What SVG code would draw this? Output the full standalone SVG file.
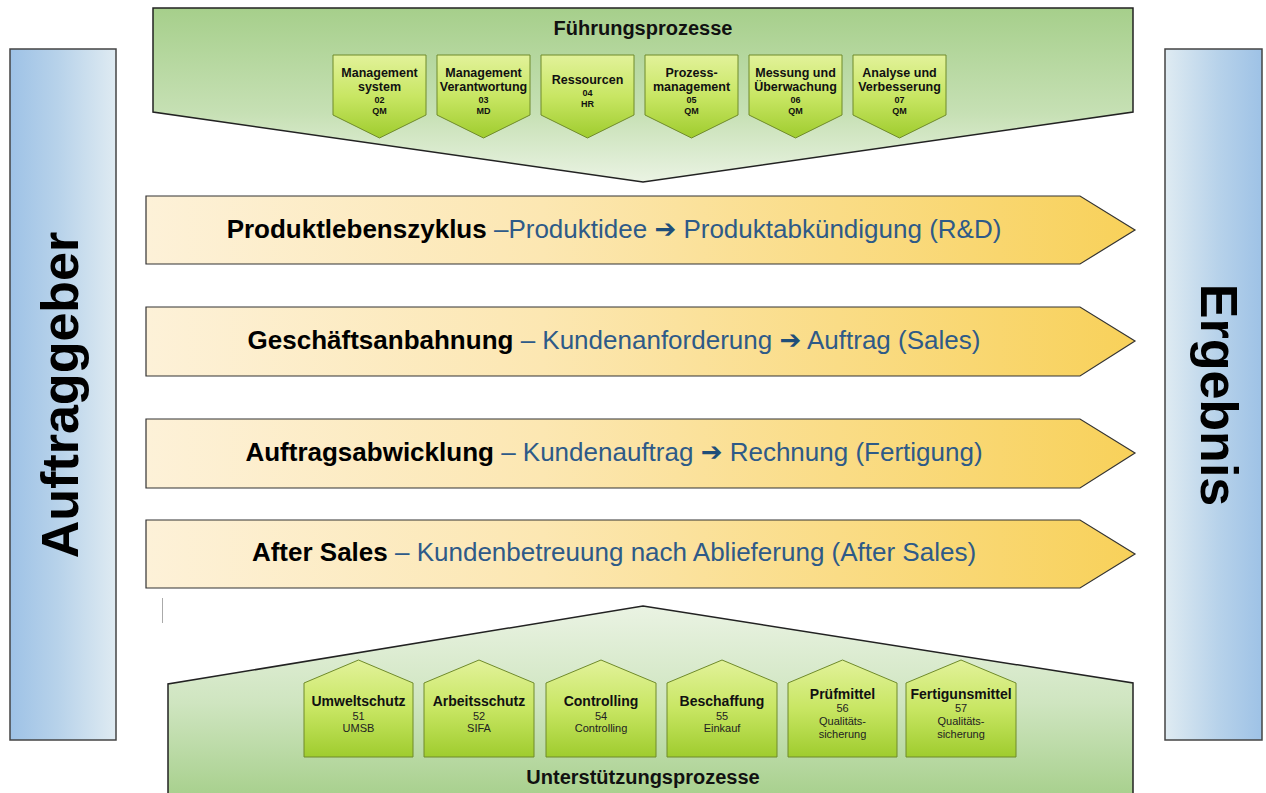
<svg xmlns="http://www.w3.org/2000/svg" width="1266" height="793" viewBox="0 0 1266 793">
<defs>
<linearGradient id="gBlueL" x1="0" y1="0" x2="1" y2="0"><stop offset="0" stop-color="#9ec2e6"/><stop offset="0.45" stop-color="#b7d2ea"/><stop offset="1" stop-color="#dfebf2"/></linearGradient>
<linearGradient id="gBlueR" x1="0" y1="0" x2="1" y2="0"><stop offset="0" stop-color="#dfebf2"/><stop offset="0.55" stop-color="#b7d2ea"/><stop offset="1" stop-color="#9ec2e6"/></linearGradient>
<linearGradient id="gYel" x1="0" y1="0" x2="1" y2="0"><stop offset="0" stop-color="#fdf1d8"/><stop offset="0.4" stop-color="#fce7b2"/><stop offset="1" stop-color="#f8d15a"/></linearGradient>
<linearGradient id="gGreenTop" x1="0" y1="0" x2="0" y2="1"><stop offset="0" stop-color="#a6cf8b"/><stop offset="0.6" stop-color="#c6e0b4"/><stop offset="1" stop-color="#eaf3e3"/></linearGradient>
<linearGradient id="gGreenBot" x1="0" y1="0" x2="0" y2="1"><stop offset="0" stop-color="#eaf3e3"/><stop offset="0.5" stop-color="#cfe5c0"/><stop offset="1" stop-color="#a6cf8b"/></linearGradient>
<linearGradient id="gBox" x1="0" y1="0" x2="0" y2="1"><stop offset="0" stop-color="#e2f29a"/><stop offset="0.5" stop-color="#c8e663"/><stop offset="1" stop-color="#9fcc2e"/></linearGradient>
<style>
.bar{stroke:#444;stroke-width:1.5}
.big{font-family:"Liberation Sans",Arial,sans-serif;font-weight:bold;font-size:52px;fill:#000}
.band{fill:url(#gYel);stroke:#333;stroke-width:1.2}
.bandT{font-family:"Liberation Sans",Arial,sans-serif;font-size:26px;fill:#2e5a88}
.bandT .k{font-weight:bold;fill:#000}
.arr{font-family:"DejaVu Sans",sans-serif;fill:#1f4e79;font-weight:bold}
.pent{stroke:#222;stroke-width:1.5}
.box{fill:url(#gBox);stroke:#6f8a2a;stroke-width:1}
.title{font-family:"Liberation Sans",Arial,sans-serif;font-weight:bold;font-size:20px;fill:#111;text-anchor:middle}
.tb{font-family:"Liberation Sans",Arial,sans-serif;font-weight:bold;font-size:12.5px;fill:#111;text-anchor:middle}
.ts{font-family:"Liberation Sans",Arial,sans-serif;font-weight:bold;font-size:9px;fill:#111;text-anchor:middle}
.bb{font-family:"Liberation Sans",Arial,sans-serif;font-weight:bold;font-size:14px;fill:#111;text-anchor:middle}
.bs{font-family:"Liberation Sans",Arial,sans-serif;font-size:11px;fill:#222;text-anchor:middle}
</style>
</defs>
<rect width="1266" height="793" fill="#ffffff"/>

<g id="auftraggeber">
<rect class="bar" x="10" y="49" width="106" height="691" fill="url(#gBlueL)"/>
<text class="big" transform="translate(78,395) rotate(-90)" text-anchor="middle">Auftraggeber</text>
</g>
<g id="ergebnis">
<rect class="bar" x="1165" y="49" width="97" height="691" fill="url(#gBlueR)"/>
<text class="big" transform="translate(1201,395) rotate(90)" text-anchor="middle">Ergebnis</text>
</g>

<g id="fuehrungsprozesse">
<polygon class="pent" points="153,8 1133,8 1133,112 643,182 153,112" fill="url(#gGreenTop)"/>
<text class="title" x="643" y="35">Führungsprozesse</text>
</g>

<g id="f02">
<polygon class="box" points="333,55 426,55 426,115 379.5,138 333,115"/>
<text class="tb" x="379.5" y="77">Management</text><text class="tb" x="379.5" y="91">system</text>
<text class="ts" x="379.5" y="103">02</text><text class="ts" x="379.5" y="114">QM</text>
</g>
<g id="f03">
<polygon class="box" points="437,55 530,55 530,115 483.5,138 437,115"/>
<text class="tb" x="483.5" y="77">Management</text><text class="tb" x="483.5" y="91">Verantwortung</text>
<text class="ts" x="483.5" y="103">03</text><text class="ts" x="483.5" y="114">MD</text>
</g>
<g id="f04">
<polygon class="box" points="541,55 634,55 634,115 587.5,138 541,115"/>
<text class="tb" x="587.5" y="84">Ressourcen</text>
<text class="ts" x="587.5" y="96">04</text><text class="ts" x="587.5" y="107">HR</text>
</g>
<g id="f05">
<polygon class="box" points="645,55 738,55 738,115 691.5,138 645,115"/>
<text class="tb" x="691.5" y="77">Prozess-</text><text class="tb" x="691.5" y="91">management</text>
<text class="ts" x="691.5" y="103">05</text><text class="ts" x="691.5" y="114">QM</text>
</g>
<g id="f06">
<polygon class="box" points="749,55 842,55 842,115 795.5,138 749,115"/>
<text class="tb" x="795.5" y="77">Messung und</text><text class="tb" x="795.5" y="91">Überwachung</text>
<text class="ts" x="795.5" y="103">06</text><text class="ts" x="795.5" y="114">QM</text>
</g>
<g id="f07">
<polygon class="box" points="853,55 946,55 946,115 899.5,138 853,115"/>
<text class="tb" x="899.5" y="77">Analyse und</text><text class="tb" x="899.5" y="91">Verbesserung</text>
<text class="ts" x="899.5" y="103">07</text><text class="ts" x="899.5" y="114">QM</text>
</g>

<g id="band1">
<polygon class="band" points="146,196 1080,196 1135,230 1080,264 146,264"/>
<text class="bandT" x="614" y="238" text-anchor="middle"><tspan class="k">Produktlebenszyklus</tspan> –Produktidee <tspan class="arr">➔</tspan> Produktabkündigung (R&amp;D)</text>
</g>
<g id="band2">
<polygon class="band" points="146,307 1080,307 1135,341 1080,376 146,376"/>
<text class="bandT" x="614" y="349" text-anchor="middle"><tspan class="k">Geschäftsanbahnung</tspan> – Kundenanforderung <tspan class="arr">➔</tspan> Auftrag (Sales)</text>
</g>
<g id="band3">
<polygon class="band" points="146,419 1080,419 1135,453 1080,488 146,488"/>
<text class="bandT" x="614" y="461" text-anchor="middle"><tspan class="k">Auftragsabwicklung</tspan> – Kundenauftrag <tspan class="arr">➔</tspan> Rechnung (Fertigung)</text>
</g>
<g id="band4">
<polygon class="band" points="146,520 1080,520 1135,554 1080,588 146,588"/>
<text class="bandT" x="614" y="561" text-anchor="middle"><tspan class="k">After Sales</tspan> – Kundenbetreuung nach Ablieferung (After Sales)</text>
</g>

<line x1="162.5" y1="598" x2="162.5" y2="623" stroke="#aaa" stroke-width="1"/>

<g id="unterstuetzungsprozesse">
<polygon class="pent" points="643,606 1133,683 1133,800 168,800 168,684" fill="url(#gGreenBot)"/>
<text class="title" x="643" y="784">Unterstützungsprozesse</text>
</g>

<g id="u51">
<polygon class="box" points="304,683 358.5,660 413,683 413,757 304,757"/>
<text class="bb" x="358.5" y="706">Umweltschutz</text>
<text class="bs" x="358.5" y="720">51</text><text class="bs" x="358.5" y="732">UMSB</text>
</g>
<g id="u52">
<polygon class="box" points="424,683 479,660 534,683 534,757 424,757"/>
<text class="bb" x="479" y="706">Arbeitsschutz</text>
<text class="bs" x="479" y="720">52</text><text class="bs" x="479" y="732">SIFA</text>
</g>
<g id="u54">
<polygon class="box" points="546,683 601,660 656,683 656,757 546,757"/>
<text class="bb" x="601" y="706">Controlling</text>
<text class="bs" x="601" y="720">54</text><text class="bs" x="601" y="732">Controlling</text>
</g>
<g id="u55">
<polygon class="box" points="667,683 722,660 777,683 777,757 667,757"/>
<text class="bb" x="722" y="706">Beschaffung</text>
<text class="bs" x="722" y="720">55</text><text class="bs" x="722" y="732">Einkauf</text>
</g>
<g id="u56">
<polygon class="box" points="788,683 842.5,660 897,683 897,757 788,757"/>
<text class="bb" x="842.5" y="699">Prüfmittel</text>
<text class="bs" x="842.5" y="712">56</text><text class="bs" x="842.5" y="725">Qualitäts-</text><text class="bs" x="842.5" y="738">sicherung</text>
</g>
<g id="u57">
<polygon class="box" points="906,683 961,660 1016,683 1016,757 906,757"/>
<text class="bb" x="961" y="699">Fertigunsmittel</text>
<text class="bs" x="961" y="712">57</text><text class="bs" x="961" y="725">Qualitäts-</text><text class="bs" x="961" y="738">sicherung</text>
</g>
</svg>
